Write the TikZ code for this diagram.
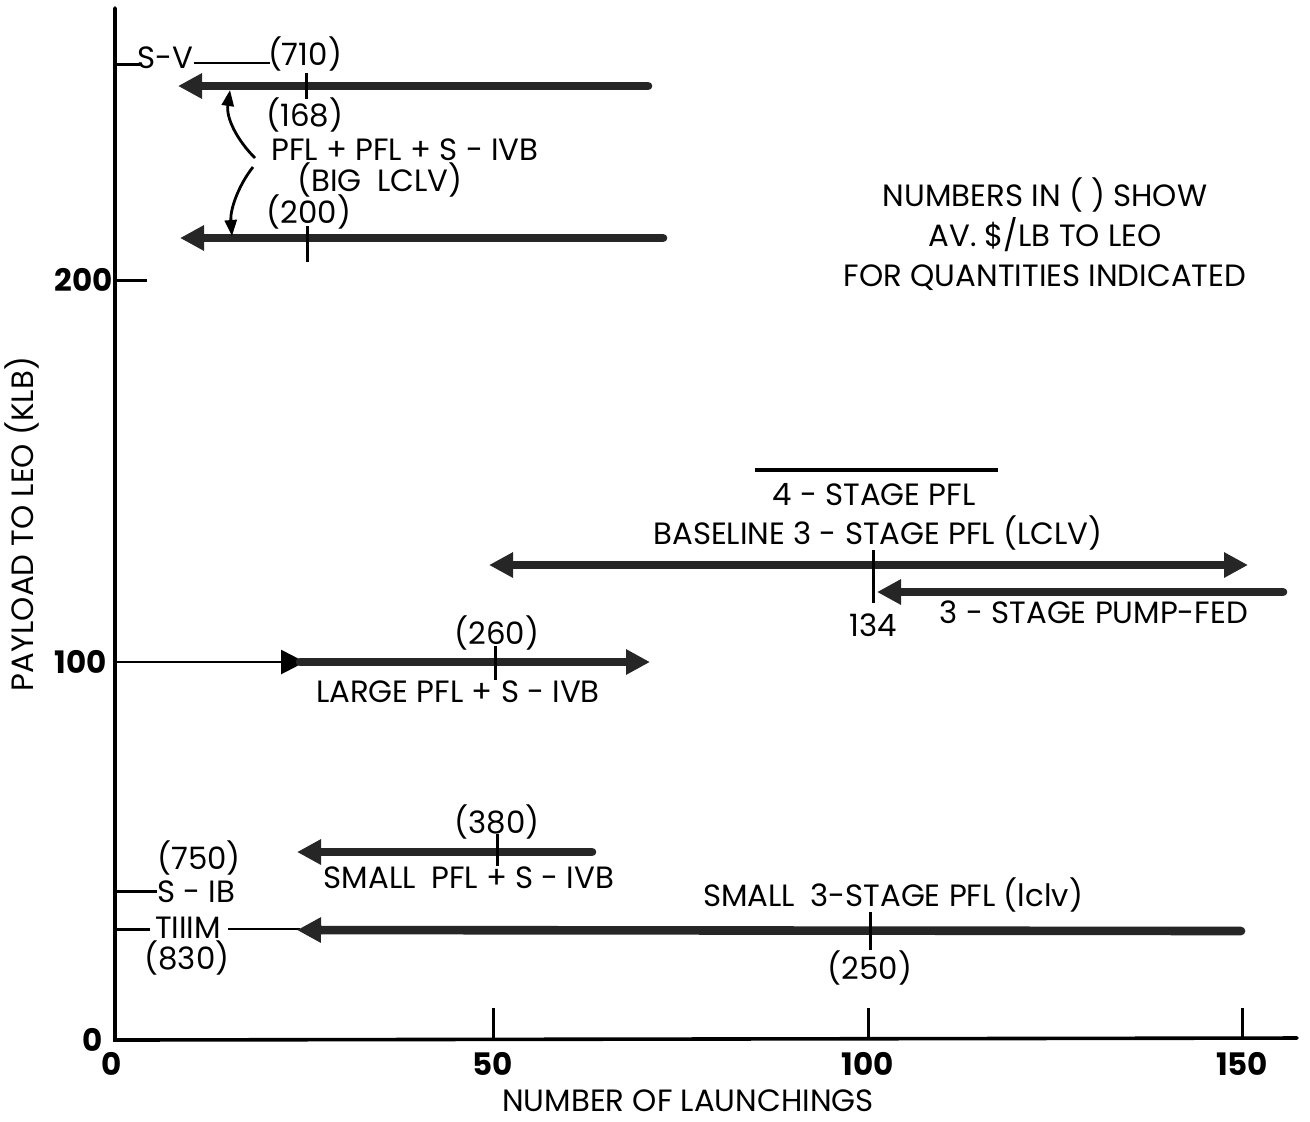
\documentclass[tikz,border=0pt]{standalone}
\usepackage{fontspec}
\setmainfont{Poppins}
\usetikzlibrary{arrows.meta}
\begin{document}
\begin{tikzpicture}[x=0.5pt,y=-0.5pt,
  axis/.style={line width=1.8pt, line cap=round},
  tickm/.style={line width=1.5pt},
  thinl/.style={line width=1.4pt},
  bar/.style={line width=4.3pt, line cap=round, black!85},
  tipR/.style={-{Triangle[length=12pt,width=12pt]}},
  tipB/.style={{Triangle[length=12pt,width=12pt]}-{Triangle[length=12pt,width=12pt]}},
  curv/.style={line width=1.4pt, -{Triangle[length=8pt,width=6pt]}},
  lbl/.style={font=\fontsize{15.4}{18}\selectfont, inner sep=0pt},
  num/.style={font=\fontsize{15.5}{18}\selectfont\bfseries, inner sep=0pt}]
\useasboundingbox (0,0) rectangle (1310,1121);

% axes
\coordinate (Ytop) at (115,8);
\coordinate (O) at (115,1040);
\coordinate (Xend) at (1297,1038);
\draw[axis] (Ytop) -- (O) -- (Xend);

% x ticks
\foreach \xx in {493,868,1242}{
  \draw[tickm] (\xx,1008) -- (\xx,1039);
}
\node[num] (x0) at (112,1064) {0};
\node[num] (x50) at (493,1064) {50};
\node[num] (x100) at (868,1064) {100};
\node[num] (x150) at (1242,1064) {150};
\node[lbl] (xlab) at (688,1101) {NUMBER OF LAUNCHINGS};

% y ticks
\node[num] (y0) at (93,1040) {0};
\node[num] (y100) at (81,662) {100};
\node[num] (y200) at (84,280) {200};
\coordinate (t200a) at (115,280); \coordinate (t200b) at (147,280);
\draw[tickm] (t200a) -- (t200b);
\node[lbl, rotate=90] (ylab) at (22,524) {PAYLOAD TO LEO (KLB)};

% S-V
\coordinate (sva) at (115,64); \coordinate (svb) at (140,64);
\draw[tickm] (sva) -- (svb);
\node[lbl] (sv) at (165,58) {S-V};
\node[lbl] (p710) at (305,54) {(710)};
\coordinate (svl1) at (194,63); \coordinate (svl2) at (270,63);
\draw[thinl] (svl1) -- (svl2);

% top arrow (PFL+PFL+S-IVB)
\coordinate (a1r) at (648,86); \coordinate (a1l) at (178,86);
\draw[bar,tipR] (a1r) -- (a1l);
\coordinate (k1a) at (306,73); \coordinate (k1b) at (306,99);
\draw[tickm] (k1a) -- (k1b);
\node[lbl] (p168) at (305,115) {(168)};
\node[lbl] (pfl2) at (405,150) {PFL + PFL + S - IVB};
\node[lbl] (big) at (380,180) {(BIG\enspace LCLV)};

% second arrow
\coordinate (a2r) at (663,238); \coordinate (a2l) at (180,238);
\draw[bar,tipR] (a2r) -- (a2l);
\coordinate (k2a) at (307,226); \coordinate (k2b) at (307,262);
\draw[tickm] (k2a) -- (k2b);
\node[lbl] (p200) at (309,212) {(200)};

% brace arrows
\coordinate (br1) at (255,158); \coordinate (br1e) at (230,90);
\coordinate (br2) at (253,167); \coordinate (br2e) at (232,236);
\draw[curv] (br1) .. controls (237,140) and (226,118) .. (br1e);
\draw[curv] (br2) .. controls (238,186) and (230,210) .. (br2e);

% legend
\node[lbl, align=center] (legend) at (1045,234) {NUMBERS IN ( ) SHOW\\[2pt] AV. \$/LB TO LEO\\[2pt] FOR QUANTITIES INDICATED};

% 4-stage / baseline
\coordinate (fs1) at (755,470); \coordinate (fs2) at (998,470);
\draw[line width=1.8pt] (fs1) -- (fs2);
\node[lbl] (fourst) at (874,495) {4 - STAGE PFL};
\node[lbl] (base) at (878,533) {BASELINE 3 - STAGE PFL (LCLV)};
\coordinate (b1) at (489,565); \coordinate (b2) at (1248,565);
\draw[bar,tipB] (b1) -- (b2);
\coordinate (k3a) at (873,550); \coordinate (k3b) at (873,603);
\draw[tickm] (k3a) -- (k3b);
\coordinate (pf1) at (1283,592); \coordinate (pf2) at (877,592);
\draw[bar,tipR] (pf1) -- (pf2);
\node[lbl] (n134) at (873,625) {134};
\node[lbl] (pump) at (1094,612) {3 - STAGE PUMP-FED};

% large PFL
\coordinate (lp0) at (115,662); \coordinate (lp1) at (305,662);
\draw[thinl,tipR] (lp0) -- (lp1);
\coordinate (lp2) at (300,662); \coordinate (lp3) at (650,662);
\draw[bar,tipR] (lp2) -- (lp3);
\coordinate (k4a) at (495,646); \coordinate (k4b) at (495,680);
\draw[tickm] (k4a) -- (k4b);
\node[lbl] (p260) at (497,633) {(260)};
\node[lbl] (large) at (458,692) {LARGE PFL + S - IVB};

% small PFL + S-IVB
\coordinate (sp1) at (592,852); \coordinate (sp2) at (297,852);
\draw[bar,tipR] (sp1) -- (sp2);
\coordinate (k5a) at (497,834); \coordinate (k5b) at (497,866);
\draw[tickm] (k5a) -- (k5b);
\node[lbl] (p380) at (497,822) {(380)};
\node[lbl] (small) at (469,878) {SMALL\enspace PFL + S - IVB};

% S-IB / TIIIM
\coordinate (sib1) at (115,891); \coordinate (sib2) at (157,891);
\draw[tickm] (sib1) -- (sib2);
\node[lbl] (p750) at (199,858) {(750)};
\node[lbl] (sib) at (196,892) {S - IB};
\coordinate (t31) at (115,929); \coordinate (t32) at (150,929);
\draw[tickm] (t31) -- (t32);
\node[lbl] (tiiim) at (188,928) {TIIIM};
\node[lbl] (p830) at (187,958) {(830)};
\coordinate (tl1) at (228,929); \coordinate (tl2) at (300,929);
\draw[thinl] (tl1) -- (tl2);

% small 3-stage
\coordinate (s31) at (1241,931); \coordinate (s32) at (297,930);
\draw[bar,tipR] (s31) -- (s32);
\coordinate (k6a) at (870,912); \coordinate (k6b) at (870,950);
\draw[tickm] (k6a) -- (k6b);
\node[lbl] (p250) at (870,968) {(250)};
\node[lbl] (s3lab) at (893,895) {SMALL\enspace 3-STAGE PFL (lclv)};
\end{tikzpicture}
\end{document}
